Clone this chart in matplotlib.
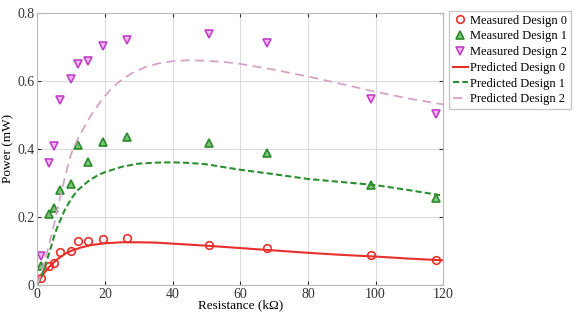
import numpy as np
import matplotlib
matplotlib.use('Agg')
import matplotlib.pyplot as plt

plt.rcParams['font.family'] = ['Liberation Serif', 'DejaVu Serif']

# measured points (resistance in kOhm, power in mW)
r_meas = [1.2, 3.5, 4.8, 6.7, 10.0, 11.9, 15.0, 19.4, 26.5, 50.6, 67.9, 98.7, 118.0]
p_meas0 = [0.02, 0.056, 0.064, 0.095, 0.100, 0.129, 0.129, 0.134, 0.139, 0.118, 0.107, 0.087, 0.074]
p_meas1 = [0.056, 0.207, 0.227, 0.280, 0.297, 0.411, 0.362, 0.421, 0.433, 0.416, 0.387, 0.294, 0.256]
p_meas2 = [0.085, 0.358, 0.408, 0.544, 0.604, 0.649, 0.659, 0.703, 0.719, 0.737, 0.710, 0.547, 0.501]

# predicted curves
r_pred0 = [0, 1, 2, 4, 6, 8, 10, 13, 16, 20, 25, 30, 35, 40, 50, 60, 70, 80, 90, 100, 110, 120]
p_pred0 = [0, 0.02, 0.035, 0.058, 0.076, 0.09, 0.1, 0.11, 0.117, 0.122, 0.125, 0.125, 0.124,
           0.121, 0.115, 0.108, 0.101, 0.094, 0.088, 0.083, 0.077, 0.072]

r_pred1 = [0, 1, 2, 3, 4, 5, 6, 8, 10, 12, 15, 18, 20, 25, 30, 35, 40, 45, 50, 55, 60, 70, 80,
           90, 100, 110, 120]
p_pred1 = [0, 0.02, 0.05, 0.078, 0.11, 0.145, 0.172, 0.218, 0.253, 0.279, 0.304, 0.323, 0.331,
           0.347, 0.356, 0.359, 0.36, 0.358, 0.354, 0.346, 0.338, 0.325, 0.311, 0.302, 0.293,
           0.278, 0.262]

r_pred2 = [0, 1, 2, 3, 4, 5, 6, 7, 8, 9, 10, 12, 14, 16, 19, 22, 25, 28, 32, 36, 40, 45, 50,
           55, 60, 70, 80, 90, 100, 110, 120]
p_pred2 = [0, 0.03, 0.065, 0.1, 0.14, 0.18, 0.225, 0.27, 0.31, 0.35, 0.385, 0.43, 0.466, 0.5,
           0.543, 0.578, 0.603, 0.622, 0.64, 0.651, 0.657, 0.66, 0.658, 0.655, 0.649, 0.632,
           0.612, 0.59, 0.567, 0.547, 0.53]

fig = plt.figure(figsize=(5.84, 3.13), dpi=100)
ax = fig.add_axes([0.064, 0.09, 0.695, 0.87])

ax.plot(r_meas, p_meas0, 'o', ls='none', mfc='none', mec='#e8302a', ms=5.5, mew=1.2,
        label='Measured Design 0')
ax.plot(r_meas, p_meas1, '^', ls='none', mfc='#7cc47c', mec='#2a8a2a', ms=5.5, mew=1.2,
        label='Measured Design 1')
ax.plot(r_meas, p_meas2, 'v', ls='none', mfc='#f0b8f0', mec='#c040c8', ms=5.5, mew=1.2,
        label='Measured Design 2')
ax.plot(r_pred0, p_pred0, '-', color='#e8302a', lw=1.5, label='Predicted Design 0')
ax.plot(r_pred1, p_pred1, '--', color='#2a9030', lw=1.5, dashes=(3, 1.5),
        label='Predicted Design 1')
ax.plot(r_pred2, p_pred2, '--', color='#d4a4c8', lw=1.3, dashes=(5, 3),
        label='Predicted Design 2')

ax.set_xlim(0, 120)
ax.set_ylim(0, 0.8)
ax.set_xticks([0, 20, 40, 60, 80, 100, 120])
ax.set_yticks([0, 0.2, 0.4, 0.6, 0.8])
ax.set_yticklabels(['0', '0.2', '0.4', '0.6', '0.8'])
ax.grid(True, color='#dddddd', lw=0.8)
ax.tick_params(direction='in', top=True, right=True, labelsize=10, colors='#333333',
               length=3, pad=2)
for s in ax.spines.values():
    s.set_color('#bbbbbb')
ax.set_xlabel('Resistance (k\u03a9)', fontsize=9.5, labelpad=-1)
ax.set_ylabel('Power (mW)', fontsize=9.5, labelpad=2)

leg = fig.legend(loc='upper left', bbox_to_anchor=(0.769, 0.965), fontsize=9,
                 frameon=True, fancybox=False, edgecolor='#bbbbbb', labelspacing=0.3,
                 handlelength=1.2, handletextpad=0.2, borderpad=0.3, borderaxespad=0)

fig.savefig('out.png', dpi=100)
